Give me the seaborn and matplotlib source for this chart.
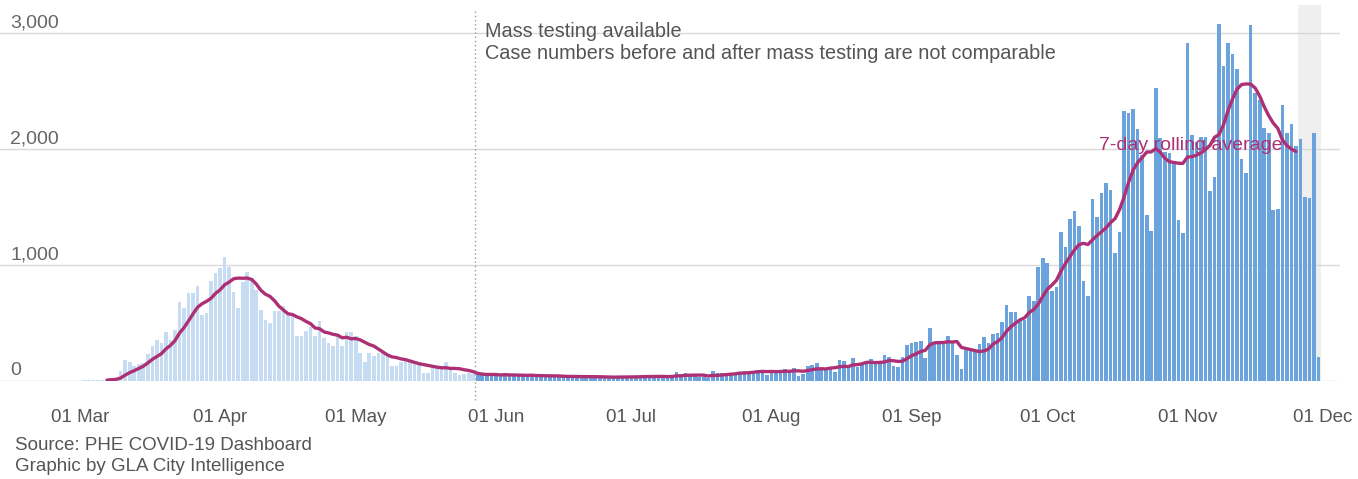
import numpy as np
import pandas as pd
import seaborn as sns
import matplotlib.pyplot as plt

# daily cases, 01 Mar 2020 onwards (one value per day)
mar_may = [3, 5, 5, 8, 10, 12, 15, 20, 30, 85,
           185, 160, 130, 145, 155, 230, 300, 355, 330, 420,
           355, 440, 685, 630, 760, 760, 815, 570, 590, 865,
           930, 970, 1065, 980, 770, 630, 855, 940, 885, 785,
           615, 530,
           500, 600, 600, 650, 565, 565, 390, 390, 435, 465,
           390, 520, 370, 330, 305, 385, 305, 425, 425, 390,
           245, 165, 245, 215, 245, 245, 215, 125, 125, 165,
           170, 165, 160, 135, 72, 72, 115, 115, 130, 160,
           95, 72, 50, 57, 72]
jun_jul = [58, 55, 52, 48, 54, 50, 48, 68, 48, 45,
           44, 42, 46, 58, 45, 42, 40, 38, 42, 40,
           38, 36, 40, 38, 36, 34, 38, 36, 34, 32,
           25, 34, 37, 38, 36, 40, 38, 37, 40, 42,
           38, 40, 42, 25, 44, 80, 47, 66, 44, 40]
jul_aug = [37, 37, 29, 86, 66, 66, 60, 60, 66, 72,
           89, 89, 89, 95, 80, 52, 80, 80, 95, 106,
           89, 115, 46, 57, 129, 141, 152, 100, 100, 100,
           80, 181, 172, 138, 201, 118, 147, 167, 187, 152,
           152, 224, 210, 129, 124]
sep_oct = [207, 310, 325, 339, 348, 195, 454, 330, 325, 330,
           388, 330, 224, 100, 267, 267, 267, 316, 376, 330,
           405, 417, 511, 652, 592, 592, 526, 526, 733, 690,
           980, 1057, 1020, 779, 807, 1282, 1158, 1394, 1468, 1336,
           862, 736, 1566, 1417]
oct_nov = [1618, 1710, 1650, 1100, 1287, 2330, 2307, 2342, 2170, 1950,
           1431, 1293, 2529, 2092, 1977, 1963, 1900, 1388, 1279, 2911,
           2121, 2063, 2100, 2106, 1641, 1761, 3078, 2718, 2911, 2816,
           2687, 1917, 1796, 3069, 2480, 2422, 2178, 2141, 1474, 1480,
           2379, 2135, 2213, 2026, 2083, 1589, 1580, 2141, 210]

cases = mar_may + jun_jul + jul_aug + sep_oct + oct_nov
start = pd.Timestamp("2020-03-01")
dates = pd.date_range(start, periods=len(cases))
mass_testing = pd.Timestamp("2020-05-28")
incomplete_days = 5

month_starts = pd.date_range("2020-03-01", "2020-12-01", freq="MS")
month_labels = [d.strftime("%d %b") for d in month_starts]

df = pd.DataFrame({"day": np.arange(len(cases)), "cases": cases})
df["after"] = dates >= mass_testing
df["avg"] = df["cases"].rolling(7).mean()
df.loc[df.index >= len(cases) - incomplete_days, "avg"] = np.nan

sns.set_style("white")
plt.rcParams["font.family"] = ["Liberation Sans", "DejaVu Sans"]

fig = plt.figure(figsize=(13.58, 4.79), dpi=100)
ax = fig.add_axes([0, 1 - 381 / 479, 1340 / 1358, (381 - 5) / 479])

ax.axvspan(len(cases) - incomplete_days - 0.5, len(cases) - 0.4,
           color="#efefef", zorder=0, lw=0)

# light bars before mass testing, darker bars after
sns.barplot(data=df[~df["after"]], x="day", y="cases", native_scale=True,
            color="#c6dcf2", width=0.8, saturation=1, errorbar=None,
            linewidth=0, ax=ax, zorder=2)
sns.barplot(data=df[df["after"]], x="day", y="cases", native_scale=True,
            color="#6ba4dc", width=0.8, saturation=1, errorbar=None,
            linewidth=0, ax=ax, zorder=2)
sns.lineplot(data=df, x="day", y="avg", color="#ad2f74", linewidth=2.4,
             ax=ax, zorder=3)

ymax = 3241
ax.set_ylim(0, ymax)
ax.set_xlim(-80 / 4.52, (1340 - 80) / 4.52)

for v in [0, 1000, 2000, 3000]:
    ax.axhline(v, color="#d9d9d9", lw=1, zorder=1)
    ax.annotate(f"{v:,}", xy=(0.0075, v), xycoords=("axes fraction", "data"),
                xytext=(0, 4), textcoords="offset points", ha="left",
                va="baseline", fontsize=14, color="#666666")

ax.set_yticks([])
tick_pos = [(d - start).days for d in month_starts]
ax.set_xticks(tick_pos)
ax.set_xticklabels(month_labels, fontsize=13.5, color="#555555")
ax.tick_params(axis="x", length=0, pad=20)
ax.set_xlabel("")
ax.set_ylabel("")
for s in ax.spines.values():
    s.set_visible(False)

mt = (mass_testing - start).days - 0.5
ax.vlines(mt, -165, 3210, colors="#9a9a9a", linestyles=(0, (1, 2)), lw=1,
          clip_on=False, zorder=4)
ax.text(mt + 2.0, 3095, "Mass testing available\n"
        "Case numbers before and after mass testing are not comparable",
        ha="left", va="top", fontsize=14.3, color="#555555", linespacing=1.2)

ax.text(245.8, 2026, "7-day rolling average", ha="center", va="center",
        fontsize=14, color="#ad2f74", zorder=5)

fig.text(15 / 1358, 1 - 456 / 479, "Source: PHE COVID-19 Dashboard\n"
         "Graphic by GLA City Intelligence", ha="left", va="center",
         fontsize=13.5, color="#555555", linespacing=1.3)

fig.savefig("out.png", dpi=100)
